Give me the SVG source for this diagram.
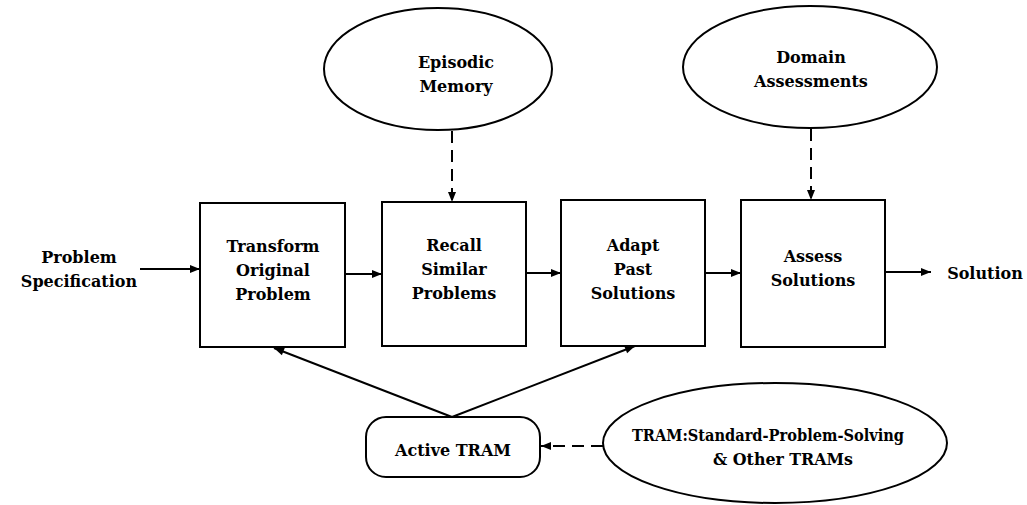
<svg xmlns="http://www.w3.org/2000/svg" width="1027" height="505" viewBox="0 0 1027 505">
  <style>
    .shape { fill: #fff; stroke: #000; stroke-width: 2; }
    .lbl { font-family: "DejaVu Serif", "Liberation Serif", serif; font-weight: bold; font-size: 16px; fill: #000; text-anchor: middle; }
    .flow { stroke: #000; stroke-width: 2; fill: none; }
    .dash { stroke-dasharray: 12 7; }
  </style>
  <defs>
    <marker id="arrow" viewBox="0 0 10 10" refX="10" refY="5" markerWidth="12" markerHeight="10" markerUnits="userSpaceOnUse" orient="auto">
      <path d="M0,1 L10,5 L0,9 z" fill="#000"/>
    </marker>
  </defs>
  <rect width="1027" height="505" fill="#fff"/>

  <!-- connectors -->
  <g id="connectors">
    <line class="flow" x1="140" y1="269" x2="200" y2="269" marker-end="url(#arrow)"/>
    <line class="flow" x1="345" y1="274" x2="382" y2="274" marker-end="url(#arrow)"/>
    <line class="flow" x1="526" y1="273" x2="561" y2="273" marker-end="url(#arrow)"/>
    <line class="flow" x1="705" y1="273" x2="741" y2="273" marker-end="url(#arrow)"/>
    <line class="flow" x1="885" y1="272" x2="931" y2="272" marker-end="url(#arrow)"/>
    <line class="flow dash" x1="452" y1="131" x2="452" y2="202" marker-end="url(#arrow)"/>
    <line class="flow dash" x1="811" y1="129" x2="811" y2="200" marker-end="url(#arrow)"/>
    <line class="flow" x1="452" y1="417" x2="274" y2="348" marker-end="url(#arrow)"/>
    <line class="flow" x1="452" y1="417" x2="635" y2="346" marker-end="url(#arrow)"/>
    <line class="flow dash" x1="603" y1="446" x2="541" y2="446" marker-end="url(#arrow)"/>
  </g>

  <!-- free labels -->
  <g id="input-label">
    <text class="lbl" x="79" y="263">Problem</text>
    <text class="lbl" x="79" y="287">Specification</text>
  </g>
  <g id="output-label">
    <text class="lbl" x="985" y="279">Solution</text>
  </g>

  <!-- process boxes -->
  <g id="transform">
    <rect class="shape" x="200" y="203" width="145" height="144"/>
    <text class="lbl" x="273" y="252">Transform</text>
    <text class="lbl" x="273" y="276">Original</text>
    <text class="lbl" x="273" y="300">Problem</text>
  </g>
  <g id="recall">
    <rect class="shape" x="382" y="202" width="144" height="144"/>
    <text class="lbl" x="454" y="251">Recall</text>
    <text class="lbl" x="454" y="275">Similar</text>
    <text class="lbl" x="454" y="299">Problems</text>
  </g>
  <g id="adapt">
    <rect class="shape" x="561" y="200" width="144" height="146"/>
    <text class="lbl" x="633" y="251">Adapt</text>
    <text class="lbl" x="633" y="275">Past</text>
    <text class="lbl" x="633" y="299">Solutions</text>
  </g>
  <g id="assess">
    <rect class="shape" x="741" y="200" width="144" height="147"/>
    <text class="lbl" x="813" y="262">Assess</text>
    <text class="lbl" x="813" y="286">Solutions</text>
  </g>

  <!-- knowledge sources -->
  <g id="episodic-memory">
    <ellipse class="shape" cx="438" cy="69" rx="114" ry="61"/>
    <text class="lbl" x="456" y="68">Episodic</text>
    <text class="lbl" x="456" y="92">Memory</text>
  </g>
  <g id="domain-assessments">
    <ellipse class="shape" cx="810" cy="67" rx="127" ry="61"/>
    <text class="lbl" x="811" y="63">Domain</text>
    <text class="lbl" x="811" y="87">Assessments</text>
  </g>

  <!-- TRAM selection -->
  <g id="active-tram">
    <rect class="shape" x="366" y="417" width="174" height="60" rx="20" ry="20"/>
    <text class="lbl" x="453" y="456">Active TRAM</text>
  </g>
  <g id="tram-library">
    <ellipse class="shape" cx="775" cy="443" rx="172" ry="60"/>
    <text class="lbl" x="768" y="441" textLength="272" lengthAdjust="spacingAndGlyphs">TRAM:Standard-Problem-Solving</text>
    <text class="lbl" x="783" y="465" textLength="140" lengthAdjust="spacingAndGlyphs">&amp; Other TRAMs</text>
  </g>
</svg>
